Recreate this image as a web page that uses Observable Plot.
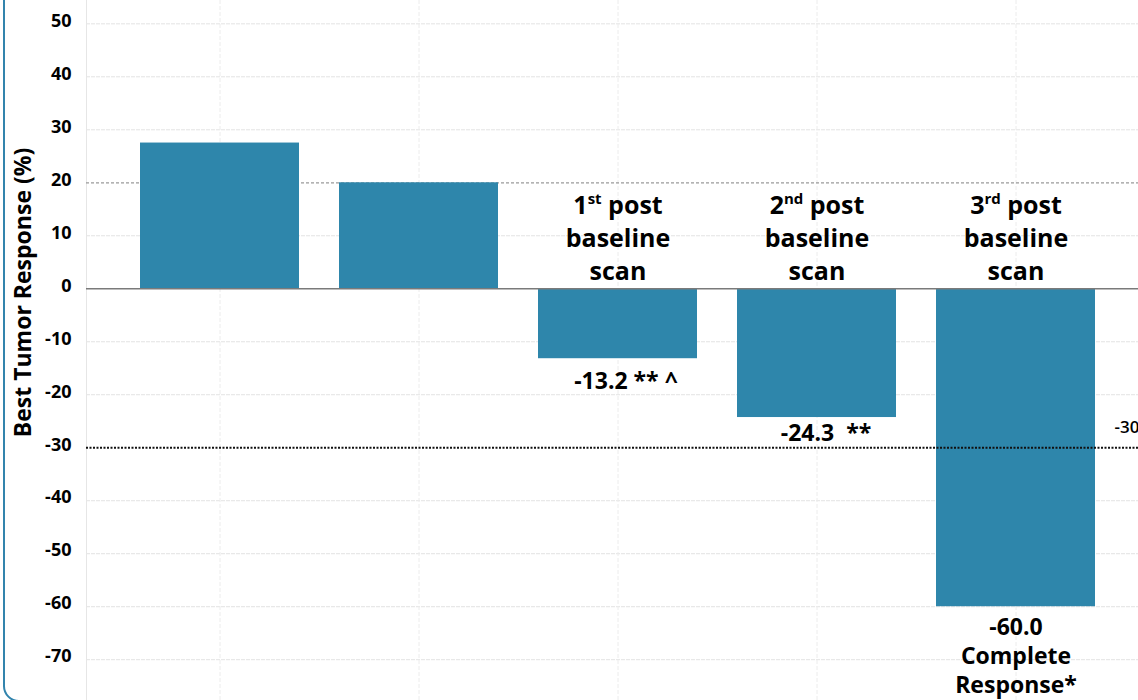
<!DOCTYPE html>
<html>
<head>
<meta charset="utf-8">
<script src="https://cdn.jsdelivr.net/npm/d3@7"></script>
<script src="https://cdn.jsdelivr.net/npm/@observablehq/plot@0.6"></script>
<style>
  html, body { margin: 0; padding: 0; background: #fff; }
  #wrap { position: relative; width: 1138px; height: 700px; overflow: hidden; }
  #border { position: absolute; left: 3px; top: -30px; width: 1300px; height: 732px;
            border: 2px solid #3284ad; border-radius: 16px; box-sizing: border-box; }
  #chart { position: absolute; left: 0; top: 0; }
</style>
</head>
<body>
<div id="wrap"><div id="border"></div><div id="chart"></div></div>
<script>
const categories = ["Patient 1", "Patient 2", "Patient 3", "Patient 4", "Patient 5"];
const responses = [27.5, 20.0, -13.2, -24.3, -60.0];
const scanLabels = [null, null, "1st post\nbaseline\nscan", "2nd post\nbaseline\nscan", "3rd  post\nbaseline\nscan"];
const valueLabels = [null, null, "-13.2 ** ^", "-24.3  **", "-60.0\nComplete\nResponse*"];
const yTicks = [50, 40, 30, 20, 10, 0, -10, -20, -30, -40, -50, -60, -70];
const progressionLine = 20;
const responseLine = -30;
const responseLineLabel = "-30";
const yLabel = "Best Tumor Response (%)";

const rows = categories.map((c, i) => ({category: c, response: responses[i], scan: scanLabels[i], value: valueLabels[i]}));
const gridTicks = yTicks.filter(t => t !== 0 && t !== progressionLine && t !== responseLine);

const barColor = "#2e86ab";
const font = "'Open Sans', Lato, sans-serif";

const plot = Plot.plot({
  width: 1138,
  height: 700,
  marginTop: 0,
  marginBottom: 0,
  marginLeft: 86,
  marginRight: 0,
  style: {fontFamily: font, background: "transparent", color: "#000"},
  x: {domain: categories, range: [120, 1115], paddingInner: 0.2, paddingOuter: 0.1, axis: null},
  y: {domain: [-77.7, 54.4], axis: null},
  marks: [
    Plot.ruleY(gridTicks, {stroke: "#e3e3e3", strokeWidth: 1, strokeDasharray: "4,1"}),
    Plot.ruleX(categories, {x: d => d, stroke: "#ececec", strokeWidth: 1, strokeDasharray: "4,2"}),
    Plot.frame({anchor: "left", stroke: "#e6e6e6"}),
    Plot.ruleY([progressionLine], {stroke: "#9a9a9a", strokeWidth: 1.2, strokeDasharray: "3,2"}),
    Plot.barY(rows, {x: "category", y: "response", fill: barColor}),
    Plot.ruleY([0], {stroke: "#7a7a7a", strokeWidth: 1.5}),
    Plot.ruleY([responseLine], {stroke: "#111", strokeWidth: 2, strokeDasharray: "2,1.5"}),
    Plot.axisY(yTicks, {tickSize: 0, tickPadding: 15, tickFormat: d => String(d), fontSize: 18, fontWeight: "bold", dy: -3, label: null, fill: "#000"}),
    Plot.text([yLabel], {frameAnchor: "left", textAnchor: "middle", rotate: -90, dx: -63, dy: -58, fontSize: 23, fontWeight: "bold", fill: "#000"}),
    Plot.text(rows.filter(d => d.scan), {x: "category", y: () => 0, text: "scan", dy: -52, lineAnchor: "middle", lineHeight: 1.32, fontSize: 25, fontWeight: "bold", fill: "#000"}),
    Plot.text(rows.slice(2, 3), {x: "category", y: "response", text: "value", dx: 8, dy: 23, fontSize: 23, fontWeight: "bold", fill: "#000"}),
    Plot.text(rows.slice(3, 4), {x: "category", y: "response", text: "value", dx: 9, dy: 16, fontSize: 23, fontWeight: "bold", fill: "#000"}),
    Plot.text(rows.slice(4, 5), {x: "category", y: "response", text: "value", dy: 48, lineAnchor: "middle", lineHeight: 1.27, fontSize: 23, fontWeight: "bold", fill: "#000"}),
    Plot.text([responseLineLabel], {y: () => responseLine, frameAnchor: "right", textAnchor: "start", dx: -24, dy: -20, fontSize: 17, fontWeight: 600, fill: "#000"})
  ]
});

// superscript ordinals (1st, 2nd, 3rd)
d3.select(plot).selectAll("tspan").each(function() {
  const t = this.textContent;
  const m = t.match(/^(\d)(st|nd|rd)(\s+.*)$/);
  if (!m || this.childElementCount) return;
  const el = d3.select(this);
  el.text(m[1]);
  el.append("tspan").attr("dy", -10).attr("font-size", 15).text(m[2]);
  el.append("tspan").attr("dy", 10).attr("xml:space", "preserve").text(m[3].replace(/^\s+/, " "));
});

document.getElementById("chart").appendChild(plot);
</script>
</body>
</html>
